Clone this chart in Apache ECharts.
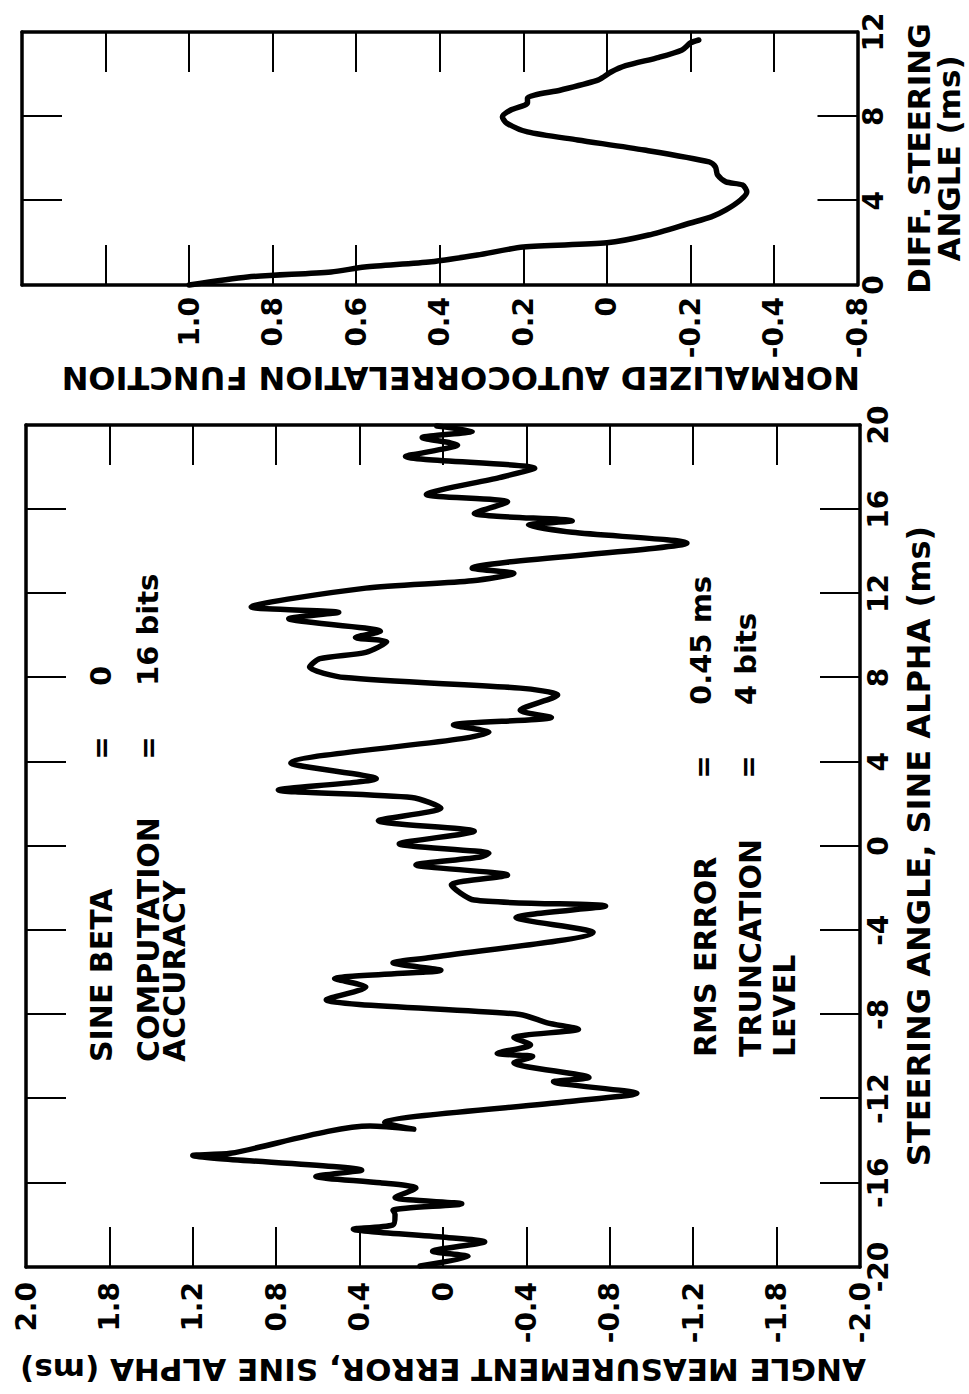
<!DOCTYPE html>
<html>
<head>
<meta charset="utf-8">
<script src="https://cdn.jsdelivr.net/npm/echarts@6/dist/echarts.min.js"></script>
<style>
  html, body { margin: 0; padding: 0; background: #fff; }
  body { width: 969px; height: 1394px; overflow: hidden; position: relative; }
  #chart { position: absolute; left: 0; top: 0; width: 1394px; height: 969px;
           transform-origin: 0 0; transform: translate(0px, 1394px) rotate(-90deg); }
</style>
</head>
<body>
<div id="chart"></div>
<script>
// ---- Main plot: angle measurement error vs steering angle ----
const steeringAngle = [-19.95,-19.5,-19.25,-18.8,-18.6,-18.2,-18.0,-17.5,-17.3,-17.0,-16.7,-16.25,-16.0,-15.7,-15.4,-14.7,-14.6,-13.3,-13.45,-13.15,-12.15,-11.75,-11.2,-11.0,-10.3,-10.0,-9.85,-9.45,-9.1,-8.7,-8.4,-8.0,-7.3,-6.7,-6.3,-5.9,-5.55,-5.3,-4.1,-3.4,-2.85,-2.57,-1.85,-1.38,-0.9,-0.52,-0.35,0.1,0.7,1.2,1.8,2.3,2.66,3.2,3.94,5.1,5.4,5.75,6.1,6.45,7.17,7.5,8.0,8.5,8.9,9.2,9.7,9.9,10.2,10.8,11.1,11.35,12.25,12.6,12.95,13.2,14.4,14.9,15.25,15.45,15.8,16.35,16.7,17.5,17.95,18.5,19.05,19.4,19.7,19.95];
const angleError    = [0.11,-0.12,0.05,-0.20,-0.02,0.43,0.24,0.23,0.24,-0.09,0.23,0.13,0.30,0.61,0.39,1.20,1.02,0.35,0.14,0.28,-0.59,-0.93,-0.53,-0.70,-0.34,-0.43,-0.26,-0.42,-0.34,-0.65,-0.50,-0.37,0.56,0.37,0.52,0.01,0.24,0.06,-0.72,-0.35,-0.78,-0.15,-0.04,-0.31,0.13,-0.18,-0.22,0.21,-0.15,0.31,0.01,0.15,0.79,0.32,0.73,-0.09,-0.22,-0.05,-0.52,-0.37,-0.55,-0.37,0.47,0.64,0.59,0.37,0.27,0.42,0.30,0.74,0.50,0.92,0.37,-0.14,-0.34,-0.14,-1.17,-0.62,-0.41,-0.62,-0.15,-0.31,0.08,-0.27,-0.44,0.18,-0.07,0.10,-0.14,0.03];

// ---- Inset: normalized autocorrelation vs diff. steering angle ----
const diffAngle = [0,0.38,0.62,0.85,1.1,1.42,1.8,2.0,2.37,2.94,3.23,3.56,4.03,4.41,4.74,4.89,5.22,5.6,5.84,6.4,6.88,7.26,7.68,7.97,8.3,8.63,8.87,9.25,9.73,10.1,10.4,10.8,11.15,11.48,11.62];
const autocorr  = [1.0,0.86,0.66,0.58,0.42,0.31,0.20,0.0,-0.10,-0.20,-0.25,-0.285,-0.32,-0.335,-0.325,-0.285,-0.265,-0.26,-0.245,-0.09,0.07,0.19,0.24,0.25,0.23,0.19,0.19,0.11,0.02,-0.01,-0.045,-0.125,-0.18,-0.20,-0.22];

// ---- Tick labels as printed ----
const errorTickValues = [-2.0,-1.6,-1.2,-0.8,-0.4,0,0.4,0.8,1.2,1.6,2.0];
const errorTickLabels = ["-2.0","-1.8","-1.2","-0.8","-0.4","0","0.4","0.8","1.2","1.8","2.0"];
const acfTickValues   = [-0.6,-0.4,-0.2,0,0.2,0.4,0.6,0.8,1.0,1.2,1.4];
const acfTickLabels   = ["-0.8","-0.4","-0.2","0","0.2","0.4","0.6","0.8","1.0","",""];

function lookup(vals, labels) {
  return function (v) {
    for (let i = 0; i < vals.length; i++) if (Math.abs(vals[i] - v) < 1e-6) return labels[i];
    return '';
  };
}

const FONT = '"DejaVu Sans", "Liberation Sans", sans-serif';
const axisLineStyle = { color: '#000', width: 3.5 };
const tickStyle = { show: true, inside: true, length: 40, lineStyle: { color: '#000', width: 2 } };
const labelBase = { color: '#000', fontFamily: FONT, fontWeight: 'bold', fontSize: 28 };
const nameStyle = { color: '#000', fontFamily: FONT, fontWeight: 'bold', fontSize: 31 };

const chart = echarts.init(document.getElementById('chart'), null, { renderer: 'svg', width: 1394, height: 969 });

const option = {
  animation: false,
  backgroundColor: '#fff',
  grid: [
    { left: 127, right: 425, top: 26, bottom: 109, containLabel: false },
    { left: 1109, right: 32, top: 22, bottom: 111, containLabel: false }
  ],
  xAxis: [
    { type: 'value', gridIndex: 0, position: 'bottom', min: -20, max: 20, interval: 4,
      axisLine: { show: true, onZero: false, lineStyle: axisLineStyle },
      axisTick: tickStyle, splitLine: { show: false },
      axisLabel: Object.assign({ margin: 4, showMinLabel: true, showMaxLabel: true, hideOverlap: false }, labelBase),
      name: 'STEERING ANGLE, SINE ALPHA (ms)', nameLocation: 'middle', nameGap: 43,
      nameTextStyle: Object.assign({}, nameStyle, { fontSize: 32 }) },
    { type: 'value', gridIndex: 0, position: 'top', min: -20, max: 20, interval: 4,
      axisLine: { show: true, onZero: false, lineStyle: axisLineStyle },
      axisTick: tickStyle, splitLine: { show: false }, axisLabel: { show: false } },
    { type: 'value', gridIndex: 1, position: 'bottom', min: 0, max: 12, interval: 4,
      axisLine: { show: true, onZero: false, lineStyle: axisLineStyle },
      axisTick: tickStyle, splitLine: { show: false },
      axisLabel: Object.assign({ margin: 2, showMinLabel: true, showMaxLabel: true, hideOverlap: false }, labelBase),
      name: 'DIFF. STEERING\nANGLE (ms)', nameLocation: 'middle', nameGap: 46,
      nameTextStyle: Object.assign({ lineHeight: 30 }, nameStyle) },
    { type: 'value', gridIndex: 1, position: 'top', min: 0, max: 12, interval: 4,
      axisLine: { show: true, onZero: false, lineStyle: axisLineStyle },
      axisTick: tickStyle, splitLine: { show: false }, axisLabel: { show: false } }
  ],
  yAxis: [
    { type: 'value', gridIndex: 0, position: 'left', min: -2, max: 2, interval: 0.4,
      axisLine: { show: true, onZero: false, lineStyle: axisLineStyle },
      axisTick: tickStyle, splitLine: { show: false },
      axisLabel: Object.assign({ margin: 15, showMinLabel: true, showMaxLabel: true, hideOverlap: false,
        formatter: lookup(errorTickValues, errorTickLabels) }, labelBase),
      name: 'ANGLE MEASUREMENT ERROR, SINE ALPHA (ms)', nameLocation: 'middle', nameRotate: 90, nameGap: 84,
      nameTextStyle: nameStyle },
    { type: 'value', gridIndex: 0, position: 'right', min: -2, max: 2, interval: 0.4,
      axisLine: { show: true, onZero: false, lineStyle: axisLineStyle },
      axisTick: tickStyle, splitLine: { show: false }, axisLabel: { show: false } },
    { type: 'value', gridIndex: 1, position: 'left', min: -0.6, max: 1.4, interval: 0.2,
      axisLine: { show: true, onZero: false, lineStyle: axisLineStyle },
      axisTick: tickStyle, splitLine: { show: false },
      axisLabel: Object.assign({ margin: 12, showMinLabel: true, showMaxLabel: true, hideOverlap: false,
        formatter: lookup(acfTickValues, acfTickLabels) }, labelBase),
      name: 'NORMALIZED AUTOCORRELATION FUNCTION', nameLocation: 'middle', nameRotate: 90, nameGap: 75,
      nameTextStyle: Object.assign({}, nameStyle, { fontSize: 32, padding: [0, 42, 0, 0] }) },
    { type: 'value', gridIndex: 1, position: 'right', min: -0.6, max: 1.4, interval: 0.2,
      axisLine: { show: true, onZero: false, lineStyle: axisLineStyle },
      axisTick: tickStyle, splitLine: { show: false }, axisLabel: { show: false } }
  ],
  series: [
    { type: 'line', xAxisIndex: 0, yAxisIndex: 0, showSymbol: false, smooth: 0.25,
      lineStyle: { color: '#000', width: 5.5, cap: 'round', join: 'round' },
      data: steeringAngle.map((a, i) => [a, angleError[i]]) },
    { type: 'line', xAxisIndex: 2, yAxisIndex: 2, showSymbol: false, smooth: 0.25,
      lineStyle: { color: '#000', width: 5.5, cap: 'round', join: 'round' },
      data: diffAngle.map((a, i) => [a, autocorr[i]]) }
  ],
  graphic: [
    { type: 'text', style: { text: 'SINE BETA', x: 332, y: 101, verticalAlign: 'middle', font: 'bold 30px ' + FONT, fill: '#000' } },
    { type: 'text', style: { text: 'COMPUTATION', x: 332, y: 148, verticalAlign: 'middle', font: 'bold 30px ' + FONT, fill: '#000' } },
    { type: 'text', style: { text: 'ACCURACY', x: 332, y: 174, verticalAlign: 'middle', font: 'bold 30px ' + FONT, fill: '#000' } },
    { type: 'text', style: { text: '=', x: 646, y: 101, align: 'center', verticalAlign: 'middle', font: 'bold 28px ' + FONT, fill: '#000' } },
    { type: 'text', style: { text: '=', x: 646, y: 148, align: 'center', verticalAlign: 'middle', font: 'bold 28px ' + FONT, fill: '#000' } },
    { type: 'text', style: { text: '0', x: 708, y: 101, verticalAlign: 'middle', font: 'bold 29px ' + FONT, fill: '#000' } },
    { type: 'text', style: { text: '16 bits', x: 708, y: 148, verticalAlign: 'middle', font: 'bold 29px ' + FONT, fill: '#000' } },
    { type: 'text', style: { text: 'RMS ERROR', x: 337, y: 705, verticalAlign: 'middle', font: 'bold 30px ' + FONT, fill: '#000' } },
    { type: 'text', style: { text: 'TRUNCATION', x: 337, y: 750, verticalAlign: 'middle', font: 'bold 30px ' + FONT, fill: '#000' } },
    { type: 'text', style: { text: 'LEVEL', x: 337, y: 784, verticalAlign: 'middle', font: 'bold 30px ' + FONT, fill: '#000' } },
    { type: 'text', style: { text: '=', x: 627, y: 703, align: 'center', verticalAlign: 'middle', font: 'bold 28px ' + FONT, fill: '#000' } },
    { type: 'text', style: { text: '=', x: 627, y: 748, align: 'center', verticalAlign: 'middle', font: 'bold 28px ' + FONT, fill: '#000' } },
    { type: 'text', style: { text: '0.45 ms', x: 689, y: 701, verticalAlign: 'middle', font: 'bold 29px ' + FONT, fill: '#000' } },
    { type: 'text', style: { text: '4 bits', x: 689, y: 746, verticalAlign: 'middle', font: 'bold 29px ' + FONT, fill: '#000' } }
  ]
};
chart.setOption(option);
</script>
</body>
</html>
